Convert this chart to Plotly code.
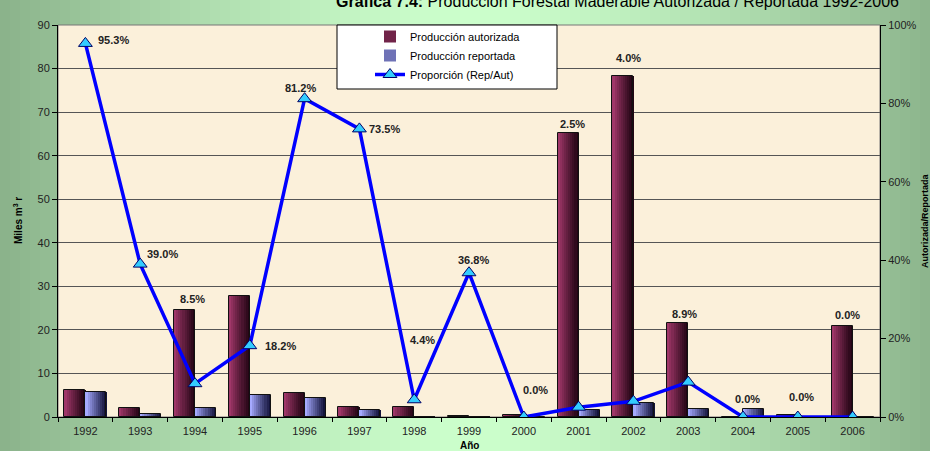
import plotly.graph_objects as go

# ---------------- data ----------------
years = ["1992", "1993", "1994", "1995", "1996", "1997", "1998", "1999",
         "2000", "2001", "2002", "2003", "2004", "2005", "2006"]
autorizada = [6.1, 2.0, 24.6, 27.8, 5.4, 2.2, 2.2, 0.2, 0.5, 65.2, 78.2, 21.5, 0.0, 0.4, 20.9]
reportada = [5.8, 0.78, 2.1, 5.06, 4.4, 1.6, 0.1, 0.07, 0.0, 1.7, 3.2, 1.9, 1.8, 0.0, 0.0]
proporcion = [95.3, 39.0, 8.5, 18.2, 81.2, 73.5, 4.4, 36.8, 0.0, 2.5, 4.0, 8.9, 0.0, 0.0, 0.0]

title_text = "<b>Gráfica 7.4:</b> Producción Forestal Maderable Autorizada / Reportada 1992-2006"
left_title = "<b>Miles m<sup>3</sup> r</b>"
right_title = "<b>Autorizada/Reportada</b>"
x_title = "<b>Año</b>"
names = ["Producción autorizada", "Producción reportada", "Proporción (Rep/Aut)"]

# label offsets (px) relative to each line point
label_dx = [28, 22, -3, 31, -4, 25, 8, 4, 12, -6, -5, -4, 4, 4, -5]
label_dy = [3, 10, 85, 0, 11, 0, 60, 13, 27, 283, 343, 68, 18, 20, 102]

# ---------------- layout geometry ----------------
W, H = 930, 451
L, R, T, B = 58, 50, 25, 34
PW, PH = W - L - R, H - T - B


def px2x(px):
    return (px - L) / PW


def py2y(py):
    return (H - B - py) / PH


def lerp(c1, c2, t):
    return "rgb(%d,%d,%d)" % tuple(round(a + (b - a) * t) for a, b in zip(c1, c2))


fig = go.Figure()

# gradient bars via strips
N = 10
BW = 0.383
auth_l, auth_r = (160, 55, 105), (35, 5, 20)
rep_l, rep_r = (165, 170, 255), (20, 20, 60)
for series, base, cl, cr, nm in [(autorizada, -BW, auth_l, auth_r, names[0]),
                                 (reportada, 0.0, rep_l, rep_r, names[1])]:
    for i in range(N):
        t = i / (N - 1)
        fig.add_trace(go.Bar(
            x=years, y=series, width=BW / N + 0.004, offset=base + i * BW / N,
            marker=dict(color=lerp(cl, cr, t ** 0.9), line=dict(width=0)),
            name=nm, showlegend=(i == N // 2 - 2), legendrank=1 if nm == names[0] else 2,
            hoverinfo="skip"))
    fig.add_trace(go.Bar(
        x=years, y=series, width=BW, offset=base,
        marker=dict(color="rgba(0,0,0,0)", line=dict(color="#111111", width=1)),
        showlegend=False, hoverinfo="skip"))

prop_frac = [p / 100 for p in proporcion]
fig.add_trace(go.Scatter(
    x=years, y=prop_frac, yaxis="y2", mode="lines+markers", name=names[2],
    line=dict(color="#0000FF", width=3.5),
    marker=dict(symbol="triangle-up", size=12, color="#33CCFF",
                line=dict(color="#000066", width=1)),
    legendrank=3))

# ---------------- background shapes ----------------
shapes = []
edge, mid = (138, 178, 138), (204, 255, 204)
step = 10
for x0 in range(0, W, step):
    c = x0 + step / 2
    t = min(1.0, abs(c - 470) / 470)
    shapes.append(dict(type="rect", xref="paper", yref="paper",
                       x0=px2x(x0), x1=px2x(x0 + step + 0.6), y0=py2y(H), y1=py2y(0),
                       fillcolor=lerp(mid, edge, t ** 1.4), line=dict(width=0), layer="below"))
shapes.append(dict(type="rect", xref="paper", yref="paper", x0=0, x1=1, y0=0, y1=1,
                   fillcolor="#FBF0DA", line=dict(color="#777777", width=1), layer="below"))
# legend box
shapes.append(dict(type="rect", xref="paper", yref="paper",
                   x0=px2x(337), x1=px2x(557), y0=py2y(89), y1=py2y(25),
                   fillcolor="white", line=dict(color="black", width=1), layer="above"))

annotations = []
for i, p in enumerate(proporcion):
    annotations.append(dict(x=i, y=p / 100, xref="x", yref="y2", text="<b>%.1f%%</b>" % p,
                            showarrow=False, xshift=label_dx[i], yshift=label_dy[i],
                            xanchor="center", yanchor="middle",
                            font=dict(size=11, color="#222222", family="Arial")))
annotations += [
    dict(x=px2x(617), y=py2y(12), xref="paper", yref="paper", text=title_text,
         showarrow=False, xanchor="center", yanchor="bottom",
         font=dict(size=16, color="black", family="Arial")),
    dict(x=px2x(18), y=0.5, xref="paper", yref="paper", text=left_title, textangle=-90,
         showarrow=False, xanchor="center", yanchor="middle",
         font=dict(size=10, color="black", family="Arial")),
    dict(x=px2x(925), y=0.5, xref="paper", yref="paper", text=right_title, textangle=-90,
         showarrow=False, xanchor="center", yanchor="middle",
         font=dict(size=9, color="black", family="Arial")),
    dict(x=0.5, y=py2y(445), xref="paper", yref="paper", text=x_title,
         showarrow=False, xanchor="center", yanchor="middle",
         font=dict(size=10, color="black", family="Arial")),
]

fig.update_layout(
    width=W, height=H, margin=dict(l=L, r=R, t=T, b=B, autoexpand=False),
    paper_bgcolor="rgb(138,178,138)", plot_bgcolor="rgba(0,0,0,0)",
    barmode="overlay", bargap=0,
    font=dict(family="Arial", size=11, color="#222222"),
    shapes=shapes, annotations=annotations,
    legend=dict(x=px2x(370), y=py2y(22), xanchor="left", yanchor="top",
                bgcolor="rgba(0,0,0,0)", borderwidth=0, itemwidth=30,
                font=dict(size=11, color="black", family="Arial"), tracegroupgap=0,
                itemclick=False),
    xaxis=dict(type="category", range=[-0.5, 14.5], showline=True, linecolor="black",
               ticks="outside", tickson="boundaries", ticklen=4, tickcolor="black",
               showgrid=False, ticklabelstandoff=4, tickfont=dict(size=11, color="#222222")),
    yaxis=dict(range=[0, 90], dtick=10, showline=True, linecolor="black", ticks="outside",
               ticklen=5, tickcolor="black", showgrid=True, gridcolor="#555555", gridwidth=1,
               zeroline=False, tickfont=dict(size=11, color="#222222")),
    yaxis2=dict(range=[0, 1], dtick=0.2, tickformat=".0%", overlaying="y", side="right",
                showline=True, linecolor="black", ticks="outside", ticklen=5,
                tickcolor="black", showgrid=False, zeroline=False,
                tickfont=dict(size=11, color="#222222")),
)

fig.write_html("out.html", config={"displayModeBar": False},
               post_script="document.body.style.margin='0';document.body.style.overflow='hidden';")
